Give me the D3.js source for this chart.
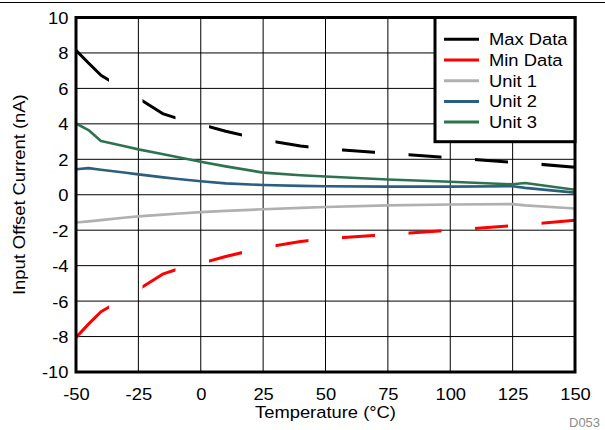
<!DOCTYPE html>
<html><head><meta charset="utf-8">
<script src="https://cdn.jsdelivr.net/npm/d3@7"></script>
<style>
html,body{margin:0;padding:0;background:#fff;}
text{font-family:"Liberation Sans",Arial,sans-serif;}
</style></head>
<body><svg id="c" width="605" height="430"></svg>
<script>
const temps = [-50,-45,-40,-30,-25,-15,-10,0,10,25,40,50,75,100,125,130,150];
const maxData = [8.15,7.43,6.74,5.88,5.44,4.56,4.34,3.97,3.58,3.10,2.75,2.59,2.34,2.09,1.83,1.79,1.55];
const minData = [-8.05,-7.3,-6.6,-5.78,-5.35,-4.46,-4.23,-3.87,-3.48,-2.99,-2.64,-2.48,-2.24,-2.0,-1.75,-1.69,-1.44];
const unit1 = [-1.57,-1.5,-1.43,-1.28,-1.22,-1.12,-1.07,-0.98,-0.91,-0.82,-0.74,-0.69,-0.6,-0.55,-0.53,-0.6,-0.78];
const unit2 = [1.44,1.5,1.41,1.24,1.15,0.98,0.9,0.76,0.64,0.55,0.5,0.48,0.46,0.46,0.48,0.39,0.12];
const unit3 = [4.02,3.65,3.03,2.72,2.56,2.28,2.14,1.86,1.6,1.25,1.1,1.03,0.86,0.73,0.59,0.66,0.28];
const xTicks = [-50,-25,0,25,50,75,100,125,150];
const yTicks = [-10,-8,-6,-4,-2,0,2,4,6,8,10];
const seriesNames = ["Max Data","Min Data","Unit 1","Unit 2","Unit 3"];
const seriesValues = [maxData,minData,unit1,unit2,unit3];
const seriesColors = ["#000000","#ff0000","#b0b0b0","#2b5f80","#2e7350"];
const dashed = [true,true,false,false,false];

const svg = d3.select("#c");
const X0=76, X1=575, Y0=372, Y1=17.5;
const x = d3.scaleLinear().domain([-50,150]).range([X0,X1]);
const y = d3.scaleLinear().domain([-10,10]).range([Y0,Y1]);
const SX = 1.08;
const fmt = d => String(d);

// top rule
svg.append("line").attr("x1",0).attr("x2",605).attr("y1",2.5).attr("y2",2.5).attr("stroke","#000").attr("stroke-width",1);

// grid
const g = svg.append("g");
g.selectAll(".vg").data(xTicks.slice(1,-1)).join("line")
  .attr("x1",d=>x(d)).attr("x2",d=>x(d)).attr("y1",Y1).attr("y2",Y0)
  .attr("stroke","#000").attr("stroke-width",1);
g.selectAll(".hg").data(yTicks.slice(1,-1)).join("line")
  .attr("y1",d=>y(d)).attr("y2",d=>y(d)).attr("x1",X0).attr("x2",X1)
  .attr("stroke","#000").attr("stroke-width",1);

// clip for dashed series (horizontal dash pattern)
const defs = svg.append("defs");
const cp = defs.append("clipPath").attr("id","dash");
for (let s = X0; s < X1; s += 66.5) {
  cp.append("rect").attr("x",s).attr("y",0).attr("width",Math.min(33,X1-s)).attr("height",430);
}
const pc = defs.append("clipPath").attr("id","plot");
pc.append("rect").attr("x",X0).attr("y",Y1).attr("width",X1-X0).attr("height",Y0-Y1);

const line = d3.line().x(d=>x(d[0])).y(d=>y(d[1]));
const order = [2,3,4,0,1];
const lg = svg.append("g").attr("clip-path","url(#plot)");
order.forEach(i=>{
  const pts = temps.map((t,k)=>[t,seriesValues[i][k]]);
  const p = lg.append("path").attr("d",line(pts)).attr("fill","none")
    .attr("stroke",seriesColors[i]).attr("stroke-width",dashed[i]?3:2.6)
    .attr("stroke-linejoin","round");
  if (dashed[i]) p.attr("clip-path","url(#dash)");
});

// frame
svg.append("rect").attr("x",X0).attr("y",Y1).attr("width",X1-X0).attr("height",Y0-Y1)
  .attr("fill","none").attr("stroke","#000").attr("stroke-width",3);

// axes labels
const xa = svg.append("g").attr("transform",`translate(0,${Y0})`)
  .call(d3.axisBottom(x).tickValues(xTicks).tickSize(0).tickPadding(0).tickFormat(fmt));
xa.select(".domain").remove();
xa.selectAll("text").attr("y",28).attr("dy",0).attr("fill","#000")
  .style("font-size","17px").attr("transform",`scale(${SX},1)`);
const ya = svg.append("g").attr("transform",`translate(${X0},0)`)
  .call(d3.axisLeft(y).tickValues(yTicks).tickSize(0).tickPadding(0).tickFormat(fmt));
ya.select(".domain").remove();
ya.selectAll("text").attr("x",-7.5/SX).attr("dy","0.35em").attr("fill","#000")
  .style("font-size","17px").attr("transform",`scale(${SX},1)`);

svg.append("text").attr("transform",`translate(${(X0+X1)/2},418) scale(${SX},1)`)
  .attr("text-anchor","middle").style("font-size","17px").text("Temperature (°C)");
svg.append("text").attr("transform",`translate(25,${(Y0+Y1)/2}) rotate(-90) scale(${SX},1)`)
  .attr("text-anchor","middle").style("font-size","17px").text("Input Offset Current (nA)");
svg.append("text").attr("transform",`translate(600,427) scale(${SX},1)`)
  .attr("text-anchor","end").attr("fill","#8c8c8c").style("font-size","12px").text("D053");

// legend
const L = svg.append("g");
L.append("rect").attr("x",435).attr("y",Y1).attr("width",X1-435).attr("height",141.7-Y1)
  .attr("fill","#fff").attr("stroke","#000").attr("stroke-width",3);
seriesNames.forEach((n,i)=>{
  const yy = 39.3 + i*20.7;
  L.append("line").attr("x1",444).attr("x2",479).attr("y1",yy).attr("y2",yy)
    .attr("stroke",seriesColors[i]).attr("stroke-width",3);
  L.append("text").attr("transform",`translate(489,${yy}) scale(${SX},1)`).attr("dy","0.35em")
    .style("font-size","17px").text(n);
});
</script></body></html>
